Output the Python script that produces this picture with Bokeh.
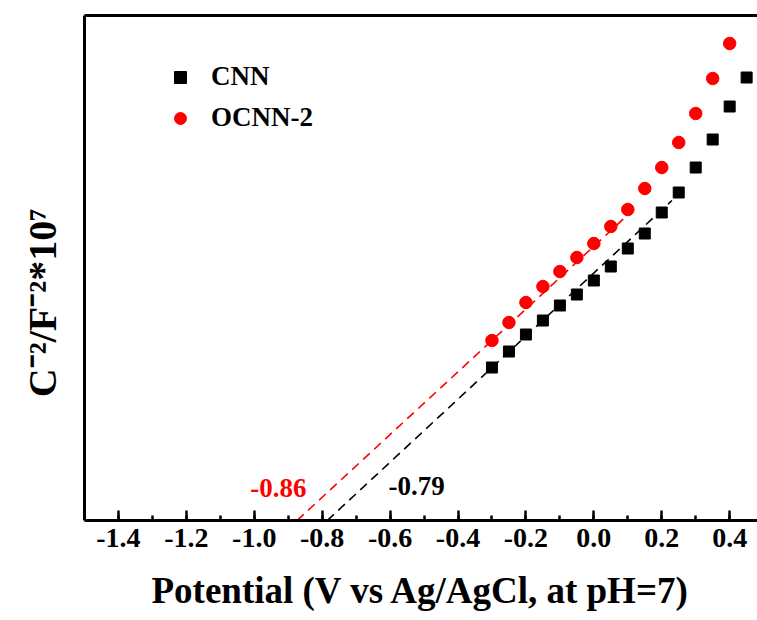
from bokeh.plotting import figure
from bokeh.models import (Range1d, LinearAxis, FixedTicker, SingleIntervalTicker,
                          Legend, LegendItem, Label, NumeralTickFormatter)
from bokeh.embed import file_html
from bokeh.resources import INLINE

# ---- data ----
cnn_potential = [-0.30, -0.25, -0.20, -0.15, -0.10, -0.05, 0.00, 0.05,
                 0.10, 0.15, 0.20, 0.25, 0.30, 0.35, 0.40, 0.45]
cnn_values = [1.53, 1.69, 1.86, 2.00, 2.15, 2.26, 2.40, 2.54,
              2.72, 2.87, 3.08, 3.28, 3.53, 3.81, 4.14, 4.43]

ocnn_potential = [-0.30, -0.25, -0.20, -0.15, -0.10, -0.05, 0.00, 0.05,
                  0.10, 0.15, 0.20, 0.25, 0.30, 0.35, 0.40]
ocnn_values = [1.80, 1.98, 2.18, 2.34, 2.49, 2.63, 2.77, 2.94,
               3.11, 3.32, 3.53, 3.78, 4.07, 4.42, 4.77]

cnn_fit_x = [-0.785, 0.23]
cnn_fit_y = [0.0, 3.20]
ocnn_fit_x = [-0.874, 0.13]
ocnn_fit_y = [0.0, 3.15]

series_names = ["CNN", "OCNN-2"]
intercept_labels = ["-0.86", "-0.79"]
x_title = "Potential (V vs Ag/AgCl, at pH=7)"
y_title = "C\u207b\u00b2/F\u207b\u00b2*10\u2077"

FONT = "Liberation Serif"

p = figure(width=757, height=620,
           x_range=Range1d(-1.5, 0.482), y_range=Range1d(0, 5.05),
           output_backend="svg", toolbar_location=None,
           min_border_left=84, min_border_right=0,
           min_border_top=15, min_border_bottom=100)
p.outline_line_color = None
p.grid.visible = False
p.background_fill_color = "white"
p.border_fill_color = "white"

# fit lines
p.line(cnn_fit_x, cnn_fit_y, line_color="black", line_width=1.6, line_dash="9 6")
p.line(ocnn_fit_x, ocnn_fit_y, line_color="red", line_width=1.6, line_dash="9 6")

# data points
r_cnn = p.scatter(cnn_potential, cnn_values, marker="square", size=11,
                  fill_color="black", line_color="black")
r_ocnn = p.scatter(ocnn_potential, ocnn_values, marker="circle", size=12.5,
                   fill_color="red", line_color="red")

# x axis
xa = p.xaxis[0]
xa.ticker = SingleIntervalTicker(interval=0.2, num_minor_ticks=2)
xa.formatter = NumeralTickFormatter(format="0.0")
xa.axis_line_width = 3
xa.major_tick_line_width = 2.5
xa.minor_tick_line_width = 2.5
xa.major_tick_in = 10
xa.major_tick_out = 0
xa.minor_tick_in = 5
xa.minor_tick_out = 0
xa.major_label_standoff = 8
xa.major_label_text_font = FONT
xa.major_label_text_font_style = "bold"
xa.major_label_text_font_size = "28px"
xa.major_label_text_color = "black"
xa.axis_label = x_title
xa.axis_label_text_font = FONT
xa.axis_label_text_font_style = "bold"
xa.axis_label_text_font_size = "37px"
xa.axis_label_text_color = "black"
xa.axis_label_standoff = 20

# y axis (line only)
ya = p.yaxis[0]
ya.ticker = FixedTicker(ticks=[])
ya.axis_line_width = 3
ya.major_tick_line_color = None
ya.minor_tick_line_color = None
ya.major_label_text_font_size = "0px"
ya.axis_label = y_title + "\u00a0" * 7
ya.axis_label_text_font = FONT
ya.axis_label_text_font_style = "bold"
ya.axis_label_text_font_size = "40px"
ya.axis_label_text_color = "black"
ya.axis_label_standoff = 20

# top border
top = LinearAxis(ticker=FixedTicker(ticks=[]), axis_line_width=3,
                 major_tick_line_color=None, minor_tick_line_color=None,
                 major_label_text_font_size="0px")
p.add_layout(top, "above")

# legend
legend = Legend(items=[LegendItem(label=series_names[0], renderers=[r_cnn]),
                       LegendItem(label=series_names[1], renderers=[r_ocnn])],
                location=(81, 387), glyph_width=30, glyph_height=30,
                label_height=30, spacing=10, padding=0, margin=0,
                label_standoff=16, border_line_color=None,
                background_fill_alpha=0,
                label_text_font=FONT, label_text_font_style="bold",
                label_text_font_size="27px", label_text_color="black")
p.add_layout(legend)

# intercept annotations
p.add_layout(Label(x=-0.929, y=0.33, text=intercept_labels[0], text_color="red",
                   text_align="center", text_baseline="middle",
                   text_font=FONT, text_font_style="bold", text_font_size="27px"))
p.add_layout(Label(x=-0.522, y=0.35, text=intercept_labels[1], text_color="black",
                   text_align="center", text_baseline="middle",
                   text_font=FONT, text_font_style="bold", text_font_size="27px"))

open("out.html", "w").write(file_html(p, INLINE))
